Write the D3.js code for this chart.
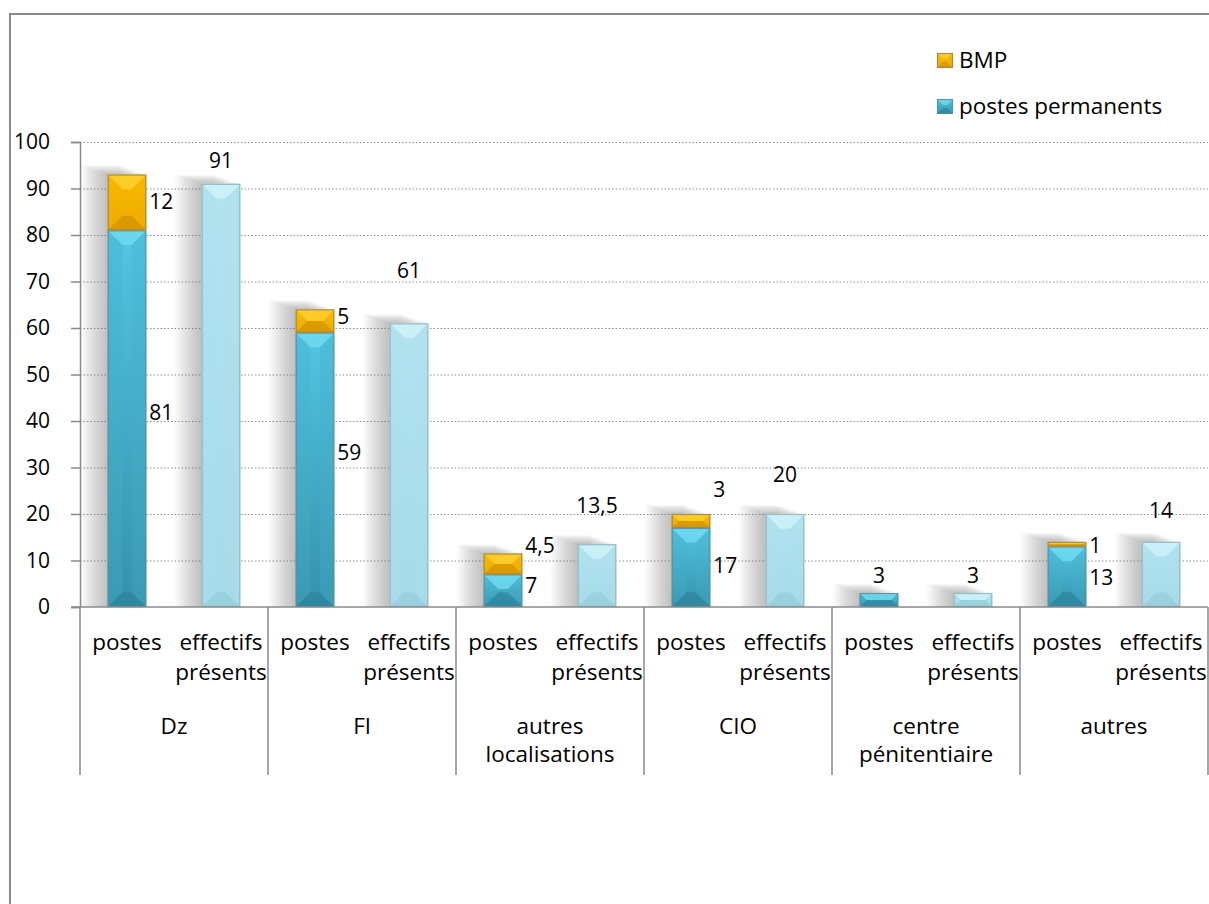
<!DOCTYPE html>
<html>
<head>
<meta charset="utf-8">
<script src="https://cdn.jsdelivr.net/npm/d3@7/dist/d3.min.js"></script>
<style>
  html, body { margin: 0; padding: 0; background: #fff; }
  svg { display: block; }
  text { font-family: "Open Sans", "Noto Sans", sans-serif; fill: #000; }
</style>
</head>
<body>
<svg id="chart" width="1209" height="904"></svg>
<script>
// ---- data ----
const categories = ["Dz", "Fl", "autres localisations", "CIO", "centre pénitentiaire", "autres"];
const categoryLines = [["Dz"], ["Fl"], ["autres", "localisations"], ["CIO"], ["centre", "pénitentiaire"], ["autres"]];
const subCategories = ["postes", "effectifs présents"];
const subCategoryLines = [["postes"], ["effectifs", "présents"]];
const postesPermanents = [81, 59, 7, 17, 3, 13];
const bmp = [12, 5, 4.5, 3, 0, 1];
const effectifsPresents = [91, 61, 13.5, 20, 3, 14];
const bmpLabels = ["12", "5", "4,5", "3", "", "1"];
const permLabels = ["81", "59", "7", "17", "3", "13"];
const effLabels = ["91", "61", "13,5", "20", "3", "14"];
// label anchor levels (value units)
const permLabelAt = [41.7, 33.3, 4.5, 9.0, 6.7, 6.4];
const bmpLabelAt = [87.1, 62.4, 13.1, 25.2, 0, 13.1];
const effLabelAt = [95.9, 72.3, 21.9, 28.4, 6.7, 20.8];
const yTicks = [0, 10, 20, 30, 40, 50, 60, 70, 80, 90, 100];
const legendItems = ["BMP", "postes permanents"];

// ---- layout ----
const svg = d3.select("#chart");
const plotLeft = 80, plotRight = 1208, plotTop = 142, plotBottom = 607;
const x0 = d3.scaleBand().domain(categories).range([plotLeft, plotRight]).padding(0);
const x1 = d3.scaleBand().domain(subCategories).range([0, x0.bandwidth()]).paddingInner(0.59).paddingOuter(0.295);
const y = d3.scaleLinear().domain([0, 100]).range([plotBottom, plotTop]);

const numSize = "21px", wordSize = "22.5px";

const palettes = {
  perm: { top: "#74dcf2", main1: "#52c6e3", main2: "#3691ab", side: "#46aecb", bottom: "#2c8098", stroke: "#5d8c99" },
  bmp:  { top: "#ffd335", main1: "#f8bb00", main2: "#efaa00", side: "#f2b200", bottom: "#cc8d00", stroke: "#9b8650" },
  eff:  { top: "#d2f4fb", main1: "#b2e4f0", main2: "#a5dae8", side: "#acdfec", bottom: "#93cad9", stroke: "#94b2ba" }
};

const defs = svg.append("defs");
Object.entries(palettes).forEach(([k, p]) => {
  const g = defs.append("linearGradient").attr("id", "grad-" + k)
    .attr("x1", 0).attr("y1", 0).attr("x2", 0).attr("y2", 1);
  g.append("stop").attr("offset", "0%").attr("stop-color", p.main1);
  g.append("stop").attr("offset", "100%").attr("stop-color", p.main2);
});

// ---- frame ----
svg.append("rect").attr("x", 10).attr("y", 14).attr("width", 1240).attr("height", 940)
  .attr("fill", "none").attr("stroke", "#8a8a8a").attr("stroke-width", 2);

// ---- gridlines ----
const grid = svg.append("g");
grid.selectAll("line").data(yTicks.filter(d => d > 0)).join("line")
  .attr("x1", plotLeft).attr("x2", plotRight)
  .attr("y1", d => y(d) + 0.5).attr("y2", d => y(d) + 0.5)
  .attr("stroke", "#8c8c8c").attr("stroke-width", 1).attr("stroke-dasharray", "1.5,2");

// ---- y axis ----
const yAxis = svg.append("g").attr("transform", `translate(${plotLeft},0)`)
  .call(d3.axisLeft(y).tickValues(yTicks).tickSize(9).tickPadding(21).tickFormat(d3.format("d")));
yAxis.select(".domain").attr("stroke", "#8a8a8a").attr("stroke-width", 1.5);
yAxis.selectAll(".tick line").attr("stroke", "#8a8a8a").attr("stroke-width", 1.5);
yAxis.selectAll(".tick text").style("font-family", "'Open Sans', sans-serif").style("font-size", numSize).attr("fill", "#000");

// ---- bars ----
function bevelBar(g, bx, by, w, h, pal, key) {
  if (h <= 0) return;
  const b = Math.min(w * 0.38, h / 2);
  const x2 = bx + w, y2 = by + h;
  g.append("rect").attr("x", bx).attr("y", by).attr("width", w).attr("height", h)
    .attr("fill", `url(#grad-${key})`);
  g.append("polygon").attr("points", [[bx, by], [bx + b, by + b], [bx + b, y2 - b], [bx, y2]].join(" "))
    .attr("fill", pal.side).attr("opacity", 0.3);
  g.append("polygon").attr("points", [[x2, by], [x2 - b, by + b], [x2 - b, y2 - b], [x2, y2]].join(" "))
    .attr("fill", pal.side).attr("opacity", 0.3);
  g.append("polygon").attr("points", [[bx, by], [x2, by], [x2 - b, by + b], [bx + b, by + b]].join(" "))
    .attr("fill", pal.top).attr("opacity", 0.75);
  g.append("polygon").attr("points", [[bx, y2], [x2, y2], [x2 - b, y2 - b], [bx + b, y2 - b]].join(" "))
    .attr("fill", pal.bottom).attr("opacity", 0.6);
  g.append("rect").attr("x", bx + 0.5).attr("y", by + 0.5).attr("width", w - 1).attr("height", h - 1)
    .attr("fill", "none").attr("stroke", pal.stroke).attr("stroke-width", 1.2).attr("opacity", 0.85);
}

// soft shadow made of stacked translucent strips
const shadowSteps = d3.range(1, 13);
function barShadow(g, bx, topY, w) {
  shadowSteps.forEach(k => {
    const spread = k * 2.2;
    g.append("rect")
      .attr("x", bx - spread).attr("y", topY - spread * 0.35)
      .attr("width", w).attr("height", plotBottom - topY + spread * 0.35)
      .attr("fill", "#7a7a7a").attr("opacity", 0.045);
  });
}

const shadows = svg.append("g");
const bars = svg.append("g");

categories.forEach((c, i) => {
  const xp = x0(c) + x1("postes");
  const xe = x0(c) + x1("effectifs présents");
  const w = x1.bandwidth();
  barShadow(shadows, xp, y(postesPermanents[i] + bmp[i]), w);
  barShadow(shadows, xe, y(effectifsPresents[i]), w);
});

categories.forEach((c, i) => {
  const xp = x0(c) + x1("postes");
  const xe = x0(c) + x1("effectifs présents");
  const w = x1.bandwidth();
  bevelBar(bars, xp, y(postesPermanents[i]), w, y(0) - y(postesPermanents[i]), palettes.perm, "perm");
  bevelBar(bars, xp, y(postesPermanents[i] + bmp[i]), w, y(postesPermanents[i]) - y(postesPermanents[i] + bmp[i]), palettes.bmp, "bmp");
  bevelBar(bars, xe, y(effectifsPresents[i]), w, y(0) - y(effectifsPresents[i]), palettes.eff, "eff");
});

// ---- data labels ----
const labels = svg.append("g").style("font-size", numSize);
categories.forEach((c, i) => {
  const xp = x0(c) + x1("postes");
  const xe = x0(c) + x1("effectifs présents");
  const w = x1.bandwidth();
  const permAbove = bmp[i] === 0;
  labels.append("text")
    .attr("x", permAbove ? xp + w / 2 : xp + w + 3)
    .attr("y", y(permLabelAt[i]))
    .attr("dy", "0.35em")
    .attr("text-anchor", permAbove ? "middle" : "start")
    .text(permLabels[i]);
  if (bmp[i] > 0) {
    labels.append("text")
      .attr("x", xp + w + 3)
      .attr("y", y(bmpLabelAt[i]))
      .attr("dy", "0.35em")
      .attr("text-anchor", "start")
      .text(bmpLabels[i]);
  }
  labels.append("text")
    .attr("x", xe + w / 2)
    .attr("y", y(effLabelAt[i]))
    .attr("dy", "0.35em")
    .attr("text-anchor", "middle")
    .text(effLabels[i]);
});

// ---- x axis (multi-level) ----
const xAxis = svg.append("g");
xAxis.append("line").attr("x1", plotLeft - 9).attr("x2", plotRight).attr("y1", plotBottom).attr("y2", plotBottom)
  .attr("stroke", "#8a8a8a").attr("stroke-width", 1.5);
const boundaries = categories.map(c => x0(c)).concat([x0(categories[categories.length - 1]) + x0.bandwidth()]);
xAxis.selectAll("line.sep").data(boundaries).join("line").attr("class", "sep")
  .attr("x1", d => d).attr("x2", d => d).attr("y1", plotBottom).attr("y2", 775)
  .attr("stroke", "#8a8a8a").attr("stroke-width", 1.5);

categories.forEach((c, i) => {
  subCategories.forEach((s, j) => {
    const cx = x0(c) + x1(s) + x1.bandwidth() / 2;
    const t = xAxis.append("text").attr("text-anchor", "middle").style("font-size", wordSize);
    subCategoryLines[j].forEach((line, k) => {
      t.append("tspan").attr("x", cx).attr("y", 650 + k * 30).text(line);
    });
  });
  const ccx = x0(c) + x0.bandwidth() / 2;
  const ct = xAxis.append("text").attr("text-anchor", "middle").style("font-size", wordSize);
  categoryLines[i].forEach((line, k) => {
    ct.append("tspan").attr("x", ccx).attr("y", 734 + k * 28).text(line);
  });
});

// ---- legend ----
const legend = svg.append("g");
const legendPal = [palettes.bmp, palettes.perm];
const legendKey = ["bmp", "perm"];
legendItems.forEach((name, i) => {
  const ly = 53 + i * 46;
  bevelBar(legend, 937, ly, 16, 15, legendPal[i], legendKey[i]);
  legend.append("text").attr("x", 959).attr("y", ly + 15).style("font-size", wordSize).text(name);
});
</script>
</body>
</html>
